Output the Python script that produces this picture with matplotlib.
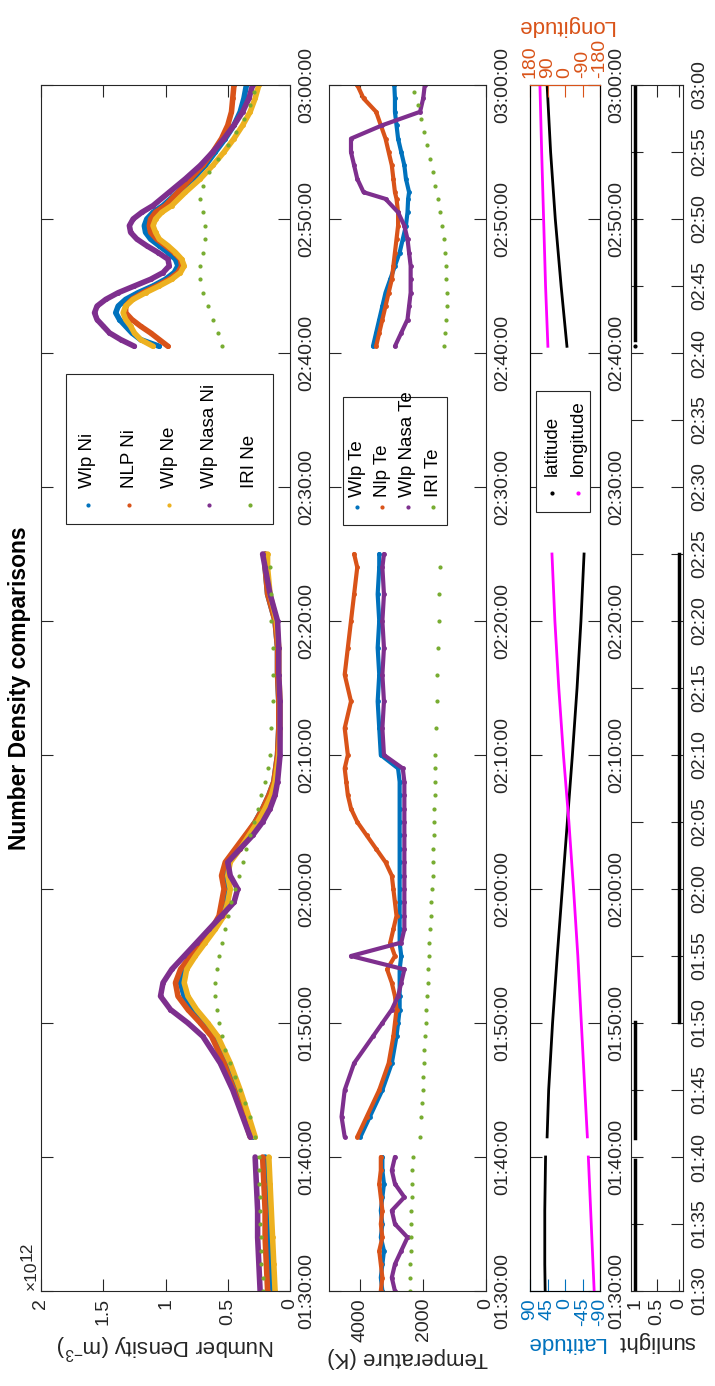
import matplotlib
matplotlib.use('Agg')

import numpy as np
import matplotlib.pyplot as plt
from matplotlib.patches import Rectangle

plt.rcParams['font.family'] = ['Liberation Sans', 'DejaVu Sans']
plt.rcParams['mathtext.fontset'] = 'custom'
plt.rcParams['mathtext.rm'] = 'Liberation Sans'

# -------------------
# Data (time in minutes after midnight, three passes)
# -------------------
t_nd = [
    [90, 92, 94, 96, 98, 100],
    [101.5, 103, 105, 107, 109, 110, 111, 112, 113, 114, 115, 116, 117, 118, 119, 120,
     121, 122, 123, 124, 125, 126, 127, 128, 130, 132, 134, 136, 138, 140, 142, 144, 145],
    [160.5, 161, 161.5, 162, 162.5, 163, 163.5, 164, 164.5, 165, 165.5, 166, 166.5, 167,
     167.5, 168, 168.5, 169, 169.5, 170, 170.5, 171, 172, 173, 174, 175, 176, 177, 178, 179, 180],
]
# number density, 1e12 m^-3
wlp_ni = [
    [0.15, 0.16, 0.17, 0.18, 0.19, 0.2],
    [0.3, 0.35, 0.42, 0.5, 0.6, 0.68, 0.78, 0.85, 0.88, 0.85, 0.78, 0.7, 0.62, 0.55, 0.52, 0.5,
     0.52, 0.5, 0.42, 0.35, 0.28, 0.22, 0.17, 0.13, 0.1, 0.09, 0.09, 0.1, 0.1, 0.12, 0.18, 0.2, 0.2],
    [1.05, 1.2, 1.27, 1.32, 1.37, 1.4, 1.38, 1.32, 1.22, 1.1, 1.0, 0.93, 0.9, 0.92, 0.98, 1.05,
     1.12, 1.16, 1.17, 1.15, 1.1, 1.02, 0.9, 0.78, 0.68, 0.6, 0.52, 0.45, 0.4, 0.37, 0.35],
]
nlp_ni = [
    [0.18, 0.19, 0.2, 0.2, 0.21, 0.22],
    [0.32, 0.37, 0.45, 0.53, 0.63, 0.72, 0.82, 0.9, 0.92, 0.88, 0.8, 0.72, 0.63, 0.57, 0.55, 0.53,
     0.55, 0.52, 0.44, 0.36, 0.28, 0.22, 0.17, 0.13, 0.1, 0.09, 0.09, 0.1, 0.1, 0.12, 0.18, 0.2, 0.2],
    [0.98, 1.05, 1.12, 1.2, 1.27, 1.32, 1.32, 1.27, 1.18, 1.07, 0.97, 0.9, 0.87, 0.88, 0.93, 1.0,
     1.07, 1.12, 1.13, 1.12, 1.08, 1.0, 0.9, 0.8, 0.7, 0.62, 0.55, 0.5, 0.47, 0.46, 0.45],
]
wlp_ne = [
    [0.12, 0.13, 0.14, 0.15, 0.16, 0.17],
    [0.28, 0.33, 0.4, 0.48, 0.58, 0.66, 0.75, 0.82, 0.85, 0.83, 0.76, 0.68, 0.6, 0.53, 0.5, 0.48,
     0.5, 0.48, 0.4, 0.33, 0.26, 0.2, 0.15, 0.12, 0.09, 0.08, 0.08, 0.09, 0.09, 0.11, 0.16, 0.18, 0.18],
    [1.1, 1.2, 1.25, 1.28, 1.32, 1.34, 1.32, 1.26, 1.16, 1.05, 0.95, 0.88, 0.85, 0.87, 0.92, 0.98,
     1.05, 1.08, 1.1, 1.08, 1.03, 0.95, 0.84, 0.72, 0.62, 0.53, 0.45, 0.38, 0.32, 0.28, 0.25],
]
wlp_nasa_ni = [
    [0.24, 0.25, 0.26, 0.26, 0.27, 0.28],
    [0.32, 0.38, 0.46, 0.56, 0.7, 0.82, 0.96, 1.04, 1.02, 0.95, 0.85, 0.75, 0.65, 0.55, 0.45, 0.42,
     0.48, 0.5, 0.4, 0.3, 0.22, 0.16, 0.12, 0.1, 0.08, 0.08, 0.08, 0.09, 0.09, 0.1, 0.16, 0.2, 0.22],
    [1.25, 1.36, 1.45, 1.5, 1.55, 1.57, 1.55, 1.48, 1.38, 1.25, 1.12, 1.02, 0.97, 0.98, 1.06, 1.15,
     1.23, 1.28, 1.29, 1.26, 1.19, 1.1, 0.97, 0.84, 0.72, 0.62, 0.53, 0.45, 0.38, 0.33, 0.3],
]
t_iri = [
    [90, 91, 92, 93, 94, 95, 96, 97, 98, 99, 100],
    [101.5, 103, 104, 105, 106, 107, 108, 109, 110, 111, 112, 113, 114, 115, 116, 117, 118, 119,
     120, 121, 122, 123, 124, 125, 126, 127, 128, 129, 130, 132, 134, 136, 138, 140, 142, 144],
    [160.5, 161.5, 162.5, 163.5, 164.5, 165.5, 166.5, 167.5, 168.5, 169.5, 170.5, 171.5, 172.5,
     173.5, 174.5, 175.5, 176.5, 177.5, 178.5, 179.5],
]
iri_ne = [
    [0.22, 0.22, 0.23, 0.23, 0.23, 0.24, 0.24, 0.24, 0.25, 0.25, 0.25],
    [0.28, 0.32, 0.36, 0.4, 0.44, 0.48, 0.52, 0.55, 0.57, 0.59, 0.6, 0.6, 0.59, 0.57, 0.55, 0.52,
     0.5, 0.47, 0.44, 0.41, 0.38, 0.35, 0.32, 0.29, 0.26, 0.23, 0.2, 0.18, 0.16, 0.15, 0.14, 0.14,
     0.14, 0.15, 0.15, 0.16],
    [0.55, 0.58, 0.62, 0.66, 0.7, 0.72, 0.72, 0.7, 0.68, 0.68, 0.7, 0.72, 0.7, 0.65, 0.58, 0.5,
     0.43, 0.37, 0.32, 0.29],
]

# temperature, K
t_te = [
    [90, 91, 92, 93, 94, 95, 96, 97, 98, 99, 100],
    [101.5, 103, 105, 107, 109, 110, 111, 112, 113, 114, 115, 116, 117, 118, 119, 120,
     121, 122, 123, 124, 125, 126, 127, 128, 129, 130, 132, 134, 136, 138, 140, 142, 144, 145],
    [160.5, 161.5, 162.5, 163.5, 164.5, 165.5, 166.5, 167.5, 168.5, 169.5, 170.5, 171.5, 172,
     173, 174, 175, 176, 177, 178, 179, 180],
]
wlp_te = [
    [3300, 3350, 3300, 3250, 3350, 3300, 3350, 3300, 3250, 3300, 3300],
    [4000, 3700, 3300, 3000, 2850, 2800, 2750, 2750, 2750, 2750, 2700, 2750, 2750, 2750, 2750, 2750,
     2750, 2750, 2750, 2750, 2750, 2750, 2750, 2750, 2800, 3350, 3400, 3450, 3400, 3450, 3400, 3450,
     3400, 3400],
    [3600, 3500, 3400, 3300, 3200, 3050, 2900, 2750, 2650, 2550, 2500, 2480, 2450, 2550, 2600, 2700,
     2800, 2850, 2900, 2900, 2920],
]
nlp_te = [
    [3350, 3300, 3350, 3400, 3300, 3350, 3300, 3350, 3400, 3350, 3350],
    [4100, 3800, 3400, 3100, 2950, 2900, 2850, 2900, 3000, 3150, 2900, 3050, 2950, 2850, 2900, 2950,
     3000, 3200, 3500, 3800, 4100, 4300, 4400, 4450, 4500, 4400, 4500, 4300, 4500, 4400, 4300, 4200,
     4100, 4200],
    [3500, 3400, 3300, 3200, 3100, 3000, 2950, 2900, 2850, 2800, 2800, 2850, 2900, 2950, 3000, 3100,
     3200, 3350, 3500, 3900, 4100],
]
wlp_nasa_te = [
    [2900, 3000, 2900, 2700, 2500, 2900, 3000, 2600, 2900, 3000, 2900],
    [4500, 4600, 4500, 4200, 3600, 3300, 3000, 2800, 2700, 2600, 4300, 2700, 2600, 2600, 2600, 2600,
     2600, 2600, 2600, 2600, 2600, 2600, 2600, 2600, 2650, 3250, 3300, 3250, 3300, 3250, 3300, 3250,
     3300, 3250],
    [2900, 2700, 2500, 2450, 2400, 2400, 2400, 2450, 2500, 2600, 2800, 3200, 3900, 4100, 4200, 4300,
     4300, 3300, 2100, 2000, 1950],
]
t_iri_te = t_iri
iri_te = [
    [2430, 2420, 2410, 2400, 2400, 2390, 2380, 2370, 2360, 2350, 2340],
    [2100, 2070, 2040, 2020, 2000, 1980, 1960, 1940, 1920, 1900, 1880, 1860, 1840, 1820, 1800, 1780,
     1760, 1740, 1720, 1700, 1690, 1680, 1670, 1660, 1650, 1640, 1630, 1620, 1610, 1590, 1570, 1550,
     1530, 1510, 1490, 1470],
    [1350, 1300, 1270, 1250, 1250, 1260, 1280, 1310, 1350, 1400, 1460, 1530, 1610, 1700, 1790, 1880,
     1980, 2080, 2180, 2280],
]

# orbit position, degrees
t_orb = [
    [90, 92, 94, 96, 98, 100],
    [101.5, 105, 110, 115, 120, 125, 130, 135, 140, 145],
    [160.5, 165, 170, 175, 180],
]
latitude = [
    [51, 52, 52, 52, 51, 50],
    [46, 42, 32, 20, 7, -6, -19, -31, -41, -49],
    [-5, 10, 25, 37, 46],
]
longitude = [
    [-150, -144, -138, -132, -126, -120],
    [-115, -102, -84, -66, -44, -20, 8, 32, 52, 67],
    [88, 100, 110, 120, 129],
]

# sunlight flag
t_sun = [
    [90, 99.8],
    [101.4, 110.1],
    [110.1, 145],
    [161, 180],
]
sunlight = [
    [1, 1],
    [1, 1],
    [0, 0],
    [1, 1],
]
t_sun_dot = [160.5]
sun_dot = [1]

# -------------------
# Styling
# -------------------
c_blue = (0, 0.447, 0.741)
c_orange = (0.85, 0.325, 0.098)
c_yellow = (0.929, 0.694, 0.125)
c_purple = (0.494, 0.184, 0.556)
c_green = (0.466, 0.674, 0.188)
c_axis = (0.15, 0.15, 0.15)
tick_fs = 14
label_fs = 16
tick_len = 8.7

W, H = 715, 1386
fig = plt.figure(figsize=(W / 100, H / 100), dpi=100)
T0, T1 = 90, 180


def px_axes(x0, x1, y0=85, y1=1291):
    return fig.add_axes([x0 / W, (H - y1) / H, (x1 - x0) / W, (y1 - y0) / H])


def fmt_time(m, seconds=True):
    s = '%02d:%02d' % (int(m // 60), int(m % 60))
    return s + ':00' if seconds else s


def setup_time(ax, step, seconds=True):
    ticks = np.arange(T0, T1 + 0.1, step)
    ax.set_ylim(T0, T1)
    ax.set_yticks(ticks)
    ax.set_yticklabels([fmt_time(m, seconds) for m in ticks], rotation=90, va='center')
    ax.yaxis.tick_right()
    ax.tick_params(axis='y', left=True, right=True, labelleft=False, labelright=True,
                   direction='in', length=tick_len, pad=6, labelsize=tick_fs,
                   color=c_axis, labelcolor=c_axis)


def setup_value(ax, lim, ticks, labels, color=c_axis):
    ax.set_xlim(*lim)
    ax.set_xticks(ticks)
    ax.set_xticklabels(labels, rotation=90)
    ax.tick_params(axis='x', top=True, bottom=True, direction='in', length=tick_len,
                   pad=5, labelsize=tick_fs, color=color, labelcolor=color)
    for s in ax.spines.values():
        s.set_color(c_axis)
        s.set_linewidth(0.8)


def rotated_legend(box, cols, entries, mark_y, text_y):
    x0, y0, x1, y1 = box
    fig.patches.append(Rectangle((x0 / W, 1 - y1 / H), (x1 - x0) / W, (y1 - y0) / H,
                                 transform=fig.transFigure, fill=True, facecolor='white',
                                 edgecolor=c_axis, linewidth=0.8, zorder=5))
    for cx, (label, color) in zip(cols, entries):
        fig.add_artist(plt.Line2D([cx / W], [1 - mark_y / H], marker='.', markersize=4,
                                  color=color, linestyle='none', transform=fig.transFigure,
                                  zorder=6))
        fig.text(cx / W, 1 - text_y / H, label, rotation=90, ha='center', va='bottom',
                 fontsize=13.5, color='black', zorder=6)


def band(ax, ts, vs, color, lw=3.2):
    for t, v in zip(ts, vs):
        ax.plot(v, t, color=color, linewidth=lw, marker='.', markersize=5,
                solid_capstyle='round')


def dots(ax, ts, vs, color, ms=4):
    for t, v in zip(ts, vs):
        ax.plot(v, t, color=color, linestyle='none', marker='.', markersize=ms)


# -------------------
# Number density panel
# -------------------
ax_nd = px_axes(41, 290)
band(ax_nd, t_nd, wlp_ni, c_blue, lw=4)
band(ax_nd, t_nd, nlp_ni, c_orange, lw=4)
band(ax_nd, t_nd, wlp_ne, c_yellow, lw=4)
band(ax_nd, t_nd, wlp_nasa_ni, c_purple, lw=4)
dots(ax_nd, t_iri, iri_ne, c_green)
setup_value(ax_nd, (2, 0), [0, 0.5, 1, 1.5, 2], ['0', '0.5', '1', '1.5', '2'])
setup_time(ax_nd, 10)
ax_nd.set_xlabel('Number Density (m$^{-3}$)', rotation=180, fontsize=label_fs, color=c_axis,
                 labelpad=4)
# exponent marker for the density axis
fig.text(31 / W, 1 - 1290 / H, '×10', rotation=90, ha='center', va='bottom',
         fontsize=12.5, color=c_axis)
fig.text(27 / W, 1 - 1261 / H, '12', rotation=90, ha='center', va='bottom',
         fontsize=12.5, color=c_axis)
fig.text(20 / W, 1 - 688 / H, 'Number Density comparisons', rotation=90, ha='center',
         va='center', fontsize=16.5, fontweight='bold')
rotated_legend((66, 374, 273, 524), [88, 129, 169, 209, 250],
               [('Wlp Ni', c_blue), ('NLP Ni', c_orange), ('Wlp Ne', c_yellow),
                ('Wlp Nasa Ni', c_purple), ('IRI Ne', c_green)], 505, 488)

# -------------------
# Temperature panel
# -------------------
ax_te = px_axes(329, 486)
band(ax_te, t_te, wlp_te, c_blue, lw=3)
band(ax_te, t_te, nlp_te, c_orange, lw=3)
band(ax_te, t_te, wlp_nasa_te, c_purple, lw=3)
dots(ax_te, t_iri_te, iri_te, c_green)
setup_value(ax_te, (5000, 0), [0, 2000, 4000], ['0', '2000', '4000'])
setup_time(ax_te, 10)
ax_te.set_xlabel('Temperature (K)', rotation=180, fontsize=label_fs, color=c_axis, labelpad=4)
rotated_legend((343, 397, 447, 525), [357, 382, 408, 433],
               [('Wlp Te', c_blue), ('Nlp Te', c_orange), ('Wlp Nasa Te', c_purple),
                ('IRI Te', c_green)], 507, 497)

# -------------------
# Latitude / longitude panel
# -------------------
ax_lat = px_axes(530, 600)
for t, v in zip(t_orb, latitude):
    ax_lat.plot(v, t, color='black', linewidth=2)
setup_value(ax_lat, (90, -90), [-90, -45, 0, 45, 90], ['-90', '-45', '0', '45', '90'],
            color=c_blue)
setup_time(ax_lat, 10)
ax_lat.spines['bottom'].set_color(c_blue)
ax_lat.set_xlabel('Latitude', rotation=180, fontsize=label_fs, color=c_blue, labelpad=4)

ax_lon = ax_lat.twiny()
for t, v in zip(t_orb, longitude):
    ax_lon.plot(v, t, color='magenta', linewidth=2)
ax_lon.set_xlim(180, -180)
ax_lon.set_xticks([-180, -90, 0, 90, 180])
ax_lon.set_xticklabels(['-180', '-90', '0', '90', '180'], rotation=90)
ax_lon.tick_params(axis='x', top=True, bottom=False, direction='in', length=tick_len, pad=5,
                   labelsize=tick_fs, color=c_orange, labelcolor=c_orange)
ax_lon.spines['top'].set_color(c_orange)
ax_lon.set_xlabel('Longitude', rotation=180, fontsize=label_fs, color=c_orange, labelpad=6)
ax_lon.set_ylim(T0, T1)
rotated_legend((536, 391, 590, 512), [552, 578],
               [('latitude', 'black'), ('longitude', 'magenta')], 493, 476)

# -------------------
# Sunlight panel
# -------------------
ax_sun = px_axes(631, 683)
for t, v in zip(t_sun, sunlight):
    ax_sun.plot(v, t, color='black', linewidth=2.5)
ax_sun.plot(sun_dot, t_sun_dot, color='black', linestyle='none', marker='.', markersize=4)
setup_value(ax_sun, (1.1, -0.1), [0, 0.5, 1], ['0', '0.5', '1'])
setup_time(ax_sun, 5, seconds=False)
ax_sun.set_xlabel('sunlight', rotation=180, fontsize=label_fs, color=c_axis, labelpad=4)

fig.savefig('out.png', dpi=100)
